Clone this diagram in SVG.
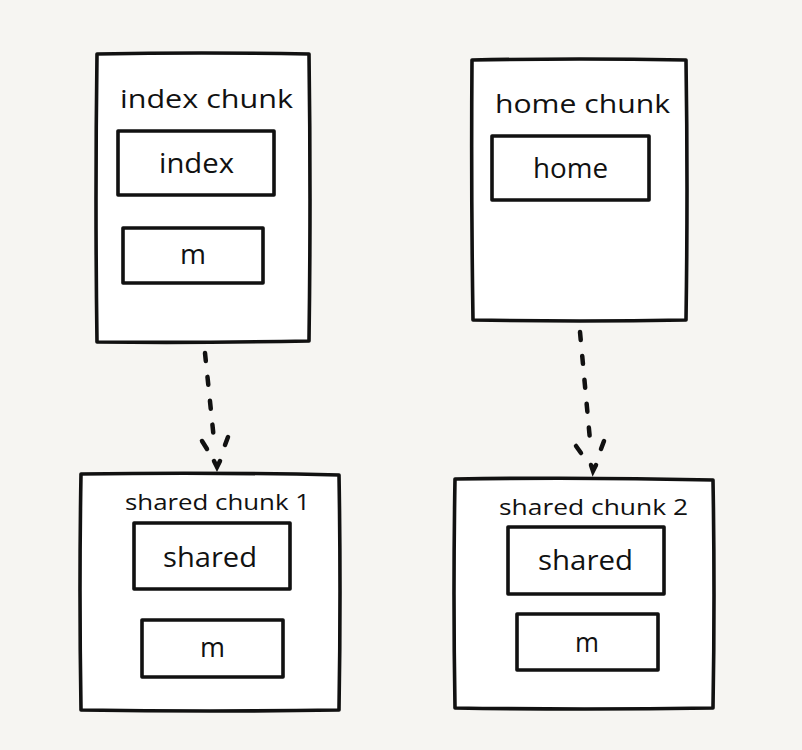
<svg xmlns="http://www.w3.org/2000/svg" width="802" height="750" viewBox="0 0 802 750">
<style>
.bg{fill:#f6f5f2}
.box{fill:#ffffff;stroke:#111111;stroke-width:3.6;stroke-linejoin:round}
.t{font-family:"Open Sans","Liberation Sans",sans-serif;fill:#111111}
.title{font-size:25px}
.lbl{font-size:27px}
.small{font-size:22px}
.dash{fill:none;stroke:#111111;stroke-width:4.5;stroke-linecap:round;stroke-dasharray:8 16}
.head{fill:none;stroke:#111111;stroke-width:4.5;stroke-linecap:round}
</style>
<rect class="bg" x="0" y="0" width="802" height="750"/>
<g id="index-chunk">
<path class="box" d="M97,54 Q200,52 309,54 Q311,200 309,341 Q200,343 97,342 Q95,200 97,54 Z"/>
<text class="t title" x="120" y="108" textLength="173" lengthAdjust="spacingAndGlyphs">index chunk</text>
<g id="index">
<rect class="box" x="118" y="131" width="156" height="64"/>
<text class="t lbl" x="159" y="173" textLength="75" lengthAdjust="spacingAndGlyphs">index</text>
</g>
<g id="index-m">
<rect class="box" x="123" y="228" width="140" height="55"/>
<text class="t lbl" x="180" y="264" textLength="26" lengthAdjust="spacingAndGlyphs">m</text>
</g>
</g>
<g id="home-chunk">
<path class="box" d="M472,60 Q580,58 686,60 Q688,190 686,320 Q580,322 473,320 Q471,190 472,60 Z"/>
<text class="t title" x="495" y="113" textLength="175" lengthAdjust="spacingAndGlyphs">home chunk</text>
<g id="home">
<rect class="box" x="492" y="136" width="157" height="64"/>
<text class="t lbl" x="533" y="178" textLength="75" lengthAdjust="spacingAndGlyphs">home</text>
</g>
</g>
<g id="shared-chunk-1">
<path class="box" d="M81,474 Q210,472 339,475 Q341,590 339,710 Q210,712 81,710 Q79,590 81,474 Z"/>
<text class="t small" x="125" y="510" textLength="185" lengthAdjust="spacingAndGlyphs">shared chunk 1</text>
<g id="shared-1">
<rect class="box" x="134" y="523" width="156" height="66"/>
<text class="t lbl" x="163" y="567" textLength="94" lengthAdjust="spacingAndGlyphs">shared</text>
</g>
<g id="m-1">
<rect class="box" x="142" y="620" width="141" height="57"/>
<text class="t lbl" x="200" y="657" textLength="25" lengthAdjust="spacingAndGlyphs">m</text>
</g>
</g>
<g id="shared-chunk-2">
<path class="box" d="M455,479 Q585,477 713,480 Q715,595 713,708 Q585,710 455,708 Q453,595 455,479 Z"/>
<text class="t small" x="499" y="515" textLength="189" lengthAdjust="spacingAndGlyphs">shared chunk 2</text>
<g id="shared-2">
<rect class="box" x="508" y="527" width="156" height="67"/>
<text class="t lbl" x="538" y="570" textLength="95" lengthAdjust="spacingAndGlyphs">shared</text>
</g>
<g id="m-2">
<rect class="box" x="517" y="614" width="141" height="56"/>
<text class="t lbl" x="575" y="652" textLength="24" lengthAdjust="spacingAndGlyphs">m</text>
</g>
</g>
<g id="connectors">
<path class="dash" d="M205,353 L214,440"/>
<path class="head" d="M202,441 L207,449 M228,437 L225,445 M214,461 L217,467 L220,461"/>
<path class="dash" d="M580,332 L590,440"/>
<path class="head" d="M576,446 L581,453 M604,441 L601,449 M591,465 L593,471 L596,465"/>
</g>
</svg>
